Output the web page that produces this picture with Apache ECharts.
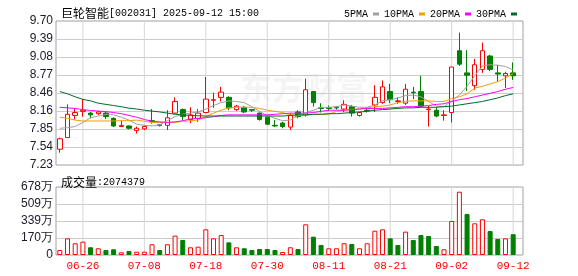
<!DOCTYPE html>
<html>
<head>
<meta charset="utf-8">
<script src="https://cdn.jsdelivr.net/npm/echarts@6/dist/echarts.min.js"></script>
<style>html,body{margin:0;padding:0;background:#fff}#c{width:578px;height:276px}</style>
</head>
<body>
<div id="c"></div>
<script>
const dates = ['06-23','06-24','06-25','06-26','06-27','06-30','07-01','07-02','07-03','07-04','07-07','07-08','07-09','07-10','07-11','07-14','07-15','07-16','07-17','07-18','07-21','07-22','07-23','07-24','07-25','07-28','07-29','07-30','07-31','08-01','08-04','08-05','08-06','08-07','08-08','08-11','08-12','08-13','08-14','08-15','08-18','08-19','08-20','08-21','08-22','08-25','08-26','08-27','08-28','08-29','09-01','09-02','09-03','09-04','09-05','09-08','09-09','09-10','09-11','09-12'];
const open  = [7.50,7.70,8.08,8.15,8.12,8.11,8.12,8.03,7.89,7.90,7.82,7.85,7.99,7.92,7.91,8.12,8.18,8.01,8.03,8.13,8.34,8.39,8.39,8.18,8.22,8.18,8.12,8.05,7.91,7.95,7.88,8.14,8.09,8.49,8.21,8.21,8.22,8.19,8.23,8.08,8.17,8.26,8.30,8.49,8.32,8.29,8.48,8.49,8.18,8.17,8.08,8.13,9.19,8.81,8.59,8.87,9.10,8.81,8.76,8.81];
const close = [7.68,8.10,8.13,8.17,8.09,8.14,8.06,7.90,7.91,7.86,7.86,7.89,7.98,7.91,8.04,8.32,8.06,8.09,8.12,8.36,8.35,8.48,8.21,8.24,8.14,8.17,8.01,7.93,7.90,7.89,8.08,8.06,8.52,8.30,8.20,8.20,8.21,8.27,8.12,8.13,8.16,8.39,8.57,8.35,8.33,8.53,8.47,8.24,8.19,8.07,8.09,8.91,8.96,8.77,8.95,9.19,8.87,8.79,8.80,8.76];
const low   = [7.44,7.70,8.01,8.06,8.03,8.09,8.02,7.88,7.89,7.84,7.77,7.83,7.94,7.89,7.83,8.11,8.00,7.95,7.97,8.12,8.21,8.32,8.17,8.16,8.12,8.14,7.99,7.92,7.88,7.86,7.83,8.03,8.06,8.23,8.13,8.16,8.18,8.14,8.06,8.06,8.13,8.14,8.28,8.29,8.28,8.26,8.36,8.22,7.89,8.05,7.99,7.96,8.93,8.50,8.52,8.81,8.84,8.66,8.55,8.69];
const high  = [7.70,8.27,8.19,8.36,8.14,8.16,8.15,8.05,7.99,7.91,7.89,7.91,8.19,7.93,8.17,8.39,8.20,8.22,8.19,8.74,8.47,8.57,8.41,8.26,8.24,8.19,8.13,8.05,8.00,7.97,8.12,8.17,8.71,8.49,8.29,8.25,8.24,8.34,8.26,8.14,8.22,8.60,8.68,8.62,8.39,8.62,8.57,8.76,8.24,8.22,8.17,8.91,9.50,9.20,9.05,9.33,9.12,8.95,8.83,8.99];
const ma5  = [7.86,7.87,7.89,7.96,8.04,8.07,8.10,8.09,8.05,8.00,7.93,7.91,7.90,7.92,7.99,8.06,8.10,8.12,8.14,8.19,8.25,8.30,8.33,8.32,8.30,8.23,8.15,8.08,8.03,7.99,8.00,8.08,8.13,8.17,8.22,8.22,8.23,8.26,8.24,8.22,8.22,8.26,8.33,8.35,8.38,8.42,8.43,8.40,8.32,8.24,8.23,8.33,8.43,8.58,8.76,8.93,8.95,8.94,8.92,8.86];
const ma10 = [8.05,8.03,8.00,7.985,7.985,7.985,7.985,7.985,7.99,7.99,8.00,7.98,7.96,7.96,7.96,7.96,7.98,7.99,8.00,8.06,8.12,8.17,8.21,8.22,8.22,8.22,8.20,8.17,8.15,8.13,8.09,8.08,8.08,8.10,8.10,8.10,8.15,8.17,8.185,8.19,8.21,8.23,8.24,8.26,8.30,8.32,8.33,8.33,8.33,8.32,8.32,8.37,8.40,8.45,8.55,8.58,8.62,8.66,8.72,8.80];
const ma20 = [8.22,8.21,8.20,8.18,8.165,8.155,8.145,8.13,8.11,8.08,8.05,8.01,7.98,7.97,7.96,7.97,7.99,8.02,8.03,8.04,8.06,8.08,8.09,8.09,8.09,8.09,8.09,8.09,8.10,8.11,8.12,8.12,8.12,8.13,8.15,8.17,8.17,8.17,8.18,8.19,8.20,8.20,8.20,8.21,8.22,8.23,8.23,8.24,8.25,8.27,8.28,8.32,8.35,8.37,8.40,8.43,8.46,8.49,8.53,8.56];
const ma30 = [8.49,8.45,8.40,8.355,8.33,8.29,8.27,8.25,8.23,8.205,8.19,8.17,8.155,8.14,8.12,8.10,8.09,8.08,8.075,8.07,8.07,8.07,8.07,8.07,8.07,8.07,8.07,8.07,8.07,8.07,8.08,8.09,8.09,8.10,8.10,8.11,8.11,8.12,8.13,8.14,8.15,8.17,8.18,8.19,8.20,8.21,8.21,8.22,8.22,8.22,8.23,8.24,8.26,8.28,8.30,8.32,8.35,8.38,8.42,8.45];
const volume = [500000,1660000,1170000,1330000,770000,670000,500000,570000,270000,400000,330000,330000,1070000,500000,1070000,1930000,1500000,770000,830000,2560000,1660000,1990000,1260000,770000,670000,500000,600000,600000,500000,300000,770000,600000,3060000,1830000,1000000,670000,670000,1170000,1100000,670000,1170000,2420000,2560000,1660000,1000000,2330000,1500000,1990000,1890000,900000,570000,3390000,6310000,4090000,3160000,3560000,2390000,1600000,1660000,2074379];
const volUp = [1,1,1,1,0,1,0,0,1,0,1,1,1,0,1,1,0,1,1,1,1,1,0,1,0,0,0,0,0,1,1,0,1,0,0,1,1,1,0,1,1,1,1,0,0,1,0,0,0,0,1,1,1,0,1,1,0,0,1,0];
const priceTicks = ['7.23','7.54','7.85','8.16','8.46','8.77','9.08','9.39','9.70'];
const volTicks = ['0','170万','339万','509万','678万'];
const priceMin = 7.23, priceMax = 9.70, volMax = 6780000;
const titleName = '巨轮智能', titleRest = '[002031] 2025-09-12 15:00';
const volLabel = '成交量', volValue = ':2074379';

const RED = '#ff0000', GREEN = '#008000';
const MONO = '"Liberation Mono", "DejaVu Sans Mono", monospace';
const CJK = '"Noto Sans CJK SC", sans-serif';
const NUM = '"Liberation Sans", Arial, sans-serif';
const FIRST_TICK = 3, TICK_EVERY = 8;
const dateTick = (i) => (i - FIRST_TICK) % TICK_EVERY === 0;
const tickDates = dates.filter((d, i) => dateTick(i));

// vertical guide lines at the labelled dates, drawn through the category axes
const guideSeries = (xi, yi, lo, hi) => tickDates.map(d => ({
  type: 'line', name: 'guide', xAxisIndex: xi, yAxisIndex: yi, z: 1, silent: true,
  symbol: 'none', clip: false, data: [[d, lo], [d, hi]],
  lineStyle: {color: '#d6d6d6', width: 1, type: 'solid'}
}));

const chart = echarts.init(document.getElementById('c'), null, {renderer: 'canvas'});
chart.setOption({
  animation: false,
  backgroundColor: '#fff',
  title: [
    {left: 56, top: 2, text: '{a|' + titleName + '}{b|' + titleRest + '}',
     textStyle: {fontWeight: 'normal', rich: {a: {fontFamily: CJK, fontSize: 12, fontWeight: 'normal', color: '#000'}, b: {fontFamily: MONO, fontSize: 10, fontWeight: 'normal', color: '#000'}}}},
    {left: 56, top: 171, text: '{a|' + volLabel + '}{b|' + volValue + '}',
     textStyle: {fontWeight: 'normal', rich: {a: {fontFamily: CJK, fontSize: 12, fontWeight: 'normal', color: '#000'}, b: {fontFamily: MONO, fontSize: 10, fontWeight: 'normal', color: '#000'}}}}
  ],
  legend: {
    left: 339, top: 4, align: 'right', icon: 'rect', itemWidth: 6, itemHeight: 3, itemGap: 5,
    textStyle: {fontFamily: MONO, fontSize: 10, color: '#000', padding: [0,0,0,0]},
    data: ['5PMA','10PMA','20PMA','30PMA']
  },
  graphic: [{
    type: 'text', left: 240, top: 72, z: -1, silent: true,
    style: {text: '东方财富', fontFamily: CJK, fontSize: 32, fontWeight: 'bold', fill: 'rgba(0,0,0,0.045)'}
  }],
  grid: [
    {left: 56, top: 21, width: 467, height: 144, show: true, borderColor: '#a0a0a0', borderWidth: 1, backgroundColor: 'transparent'},
    {left: 56, top: 21, width: 461, height: 144},
    {left: 56, top: 187, width: 467, height: 68, show: true, borderColor: '#a0a0a0', borderWidth: 1, backgroundColor: 'transparent'},
    {left: 56, top: 187, width: 461, height: 68}
  ],
  xAxis: [
    {gridIndex: 0, type: 'value', min: 0, max: 1, show: false},
    {gridIndex: 1, type: 'category', data: dates, boundaryGap: true,
     axisLine: {show: false}, axisTick: {show: false}, axisLabel: {show: false}, splitLine: {show: false}},
    {gridIndex: 2, type: 'value', min: 0, max: 1, show: false},
    {gridIndex: 3, type: 'category', data: dates, boundaryGap: true,
     axisLine: {show: false}, axisTick: {show: false}, splitLine: {show: false},
     axisLabel: {show: true, interval: dateTick, color: RED, fontFamily: MONO, fontSize: 11, margin: 6}}
  ],
  yAxis: [
    {gridIndex: 0, type: 'value', min: 0, max: 8, interval: 1,
     axisLine: {show: false}, axisTick: {show: false},
     axisLabel: {color: '#1a1a2a', fontFamily: NUM, fontSize: 12, margin: 3, formatter: (v) => priceTicks[Math.round(v)]},
     splitLine: {show: true, showMinLine: false, showMaxLine: false, lineStyle: {color: '#cccccc', width: 1}}},
    {gridIndex: 1, type: 'value', min: priceMin, max: priceMax, show: false, splitLine: {show: false}},
    {gridIndex: 2, type: 'value', min: 0, max: 4, interval: 1,
     axisLine: {show: false}, axisTick: {show: false},
     axisLabel: {color: '#1a1a2a', fontFamily: NUM, fontSize: 12, margin: 3, formatter: (v) => volTicks[Math.round(v)]},
     splitLine: {show: true, showMinLine: false, showMaxLine: false, lineStyle: {color: '#cccccc', width: 1}}},
    {gridIndex: 3, type: 'value', min: 0, max: volMax, show: false, splitLine: {show: false}}
  ],
  series: [
    ...guideSeries(1, 1, priceMin, priceMax),
    ...guideSeries(3, 3, 0, volMax),
    {type: 'candlestick', name: 'K', xAxisIndex: 1, yAxisIndex: 1, barWidth: 5, z: 3,
     itemStyle: {color: '#ffffff', color0: GREEN, borderColor: RED, borderColor0: GREEN, borderWidth: 1},
     data: dates.map((d, i) => [open[i], close[i], low[i], high[i]])},
    {type: 'line', name: '5PMA', xAxisIndex: 1, yAxisIndex: 1, data: ma5, symbol: 'none', z: 4, color: '#a0a0a0', lineStyle: {width: 1, color: '#a0a0a0'}},
    {type: 'line', name: '10PMA', xAxisIndex: 1, yAxisIndex: 1, data: ma10, symbol: 'none', z: 4, color: '#f0a000', lineStyle: {width: 1, color: '#f0a000'}},
    {type: 'line', name: '20PMA', xAxisIndex: 1, yAxisIndex: 1, data: ma20, symbol: 'none', z: 4, color: '#ff00ff', lineStyle: {width: 1, color: '#ff00ff'}},
    {type: 'line', name: '30PMA', xAxisIndex: 1, yAxisIndex: 1, data: ma30, symbol: 'none', z: 4, color: '#006b2c', lineStyle: {width: 1, color: '#006b2c'}},
    {type: 'bar', name: 'VOL', xAxisIndex: 3, yAxisIndex: 3, barWidth: 5, z: 3,
     data: volume.map((v, i) => ({value: v, itemStyle: volUp[i] ? {color: '#ffffff', borderColor: RED, borderWidth: 1} : {color: GREEN, borderColor: GREEN, borderWidth: 1}}))}
  ]
});
</script>
</body>
</html>
